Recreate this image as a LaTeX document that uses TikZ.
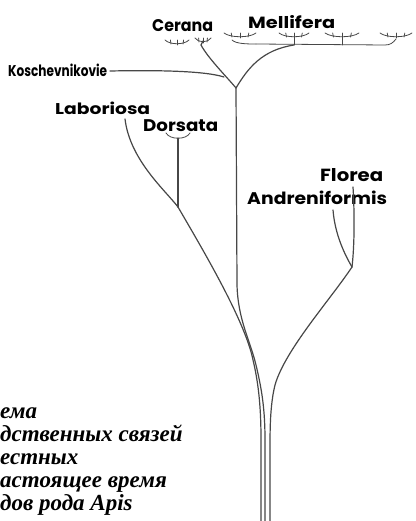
\documentclass[tikz,border=0pt]{standalone}
\usepackage{fontspec}
\usepackage{graphicx}
\newfontfamily\labfont{Poppins}[UprightFont=* Bold]
\newfontfamily\capfont{Liberation Serif}
\newcommand{\fitlab}[3]{\resizebox{#1pt}{#2pt}{\vphantom{Kl}#3}}
\begin{document}
\begin{tikzpicture}[x=1pt,y=-1pt,
  branch/.style={draw=black!72,line width=1.2pt,line cap=round},
  twig/.style={draw=black!72,line width=0.8pt,line cap=round},
  lab/.style={inner sep=0pt,anchor=base west,font=\labfont\fontsize{12}{14}\selectfont},
  captext/.style={inner sep=0pt,anchor=base west,font=\capfont\itshape\bfseries\fontsize{23}{23}\selectfont},
  tuft/.pic={
    \draw[twig] (-1,-5) .. controls (-0.6,0) and (0.6,0) .. (1,-5);
    \draw[twig] (-0.5,-0.9) -- (-0.55,-5);
    \draw[twig] (0,0) -- (0,-5);
    \draw[twig] (0.5,-0.9) -- (0.55,-5);
  }]
\useasboundingbox (0,0) rectangle (415,521);
\clip (0,0) rectangle (415,521);

% labels
\node[lab] (cerana) at (152,32) {\fitlab{61}{12.5}{Cerana}};
\node[lab] (mellifera) at (248,29) {\fitlab{87}{13}{Mellifera}};
\node[lab] (kosch) at (8,77) {\fitlab{99}{12.5}{Koschevnikovie}};
\node[lab] (labor) at (55,115) {\fitlab{95}{12.5}{Laboriosa}};
\node[lab] (dorsata) at (143,132) {\fitlab{75}{12.5}{Dorsata}};
\node[lab] (florea) at (320,182) {\fitlab{63}{13}{Florea}};
\node[lab] (andren) at (247,205) {\fitlab{140}{13.5}{Andreniformis}};

% coordinates
\coordinate (fork) at (236,88);
\coordinate (ceranaTop) at (201,45);
\coordinate (kJoin) at (224,77);
\coordinate (kStart) at (110,71);
\coordinate (mellTop) at (294,45);
\coordinate (dorsTop) at (178,138);
\coordinate (lJoin) at (178,207);
\coordinate (labTop) at (125,119);
\coordinate (flTop) at (353,187);
\coordinate (anTop) at (333,210);
\coordinate (flJoin) at (352,267);
\coordinate (b1) at (261,521);
\coordinate (b2) at (265,521);
\coordinate (b3) at (270,521);

% clusters
\pic[xscale=12,yscale=1] at (177,45) {tuft};
\pic[xscale=8,yscale=1] at (203,43) {tuft};
\pic[xscale=16,yscale=1] at (240,38) {tuft};
\pic[xscale=15,yscale=1] at (294,38) {tuft};
\pic[xscale=17,yscale=1] at (342,38) {tuft};
\pic[xscale=16,yscale=1] at (396,38) {tuft};
\draw[twig] (294,38) -- (mellTop);
\draw[twig] (342,38) -- (342,45);
\draw[twig] (232,40) .. controls (236,44) and (248,44) .. (256,44);
\draw[twig] (256,44) -- (385,45) .. controls (390,45) and (393,43) .. (396,39);

% Dorsata cluster
\draw[twig] (166,133) .. controls (170,140) and (186,140) .. (190,133);

% top branches
\draw[branch] (fork) .. controls (225,75) and (208,58) .. (ceranaTop) -- (203,41);
\draw[branch] (kStart) .. controls (160,70) and (205,71) .. (kJoin);
\draw[branch] (fork) .. controls (248,68) and (262,50) .. (mellTop);

% trunk
\draw[branch] (fork) -- (237,285) .. controls (238,320) and (250,340) .. (256,365)
  .. controls (262,390) and (265,410) .. (265,440) -- (b2);

% left clade
\draw[branch] (dorsTop) -- (lJoin);
\draw[branch] (labTop) .. controls (130,160) and (165,190) .. (lJoin);
\draw[branch] (lJoin) .. controls (200,245) and (245,320) .. (253,360)
  .. controls (259,385) and (261,410) .. (261,440) -- (b1);

% Florea clade
\draw[branch] (flTop) .. controls (355,220) and (354,250) .. (flJoin);
\draw[branch] (anTop) .. controls (335,235) and (345,255) .. (flJoin);
\draw[branch] (flJoin) .. controls (330,300) and (285,350) .. (275,385)
  .. controls (270,405) and (270,430) .. (270,450) -- (b3);

% caption fragments
\node[captext] (c1) at (0,418) {ема};
\node[captext] (c2) at (0,441) {дственных связей};
\node[captext] (c3) at (0,464) {естных};
\node[captext] (c4) at (0,487) {астоящее время};
\node[captext] (c5) at (0,510) {дов рода Apis};
\end{tikzpicture}
\end{document}
